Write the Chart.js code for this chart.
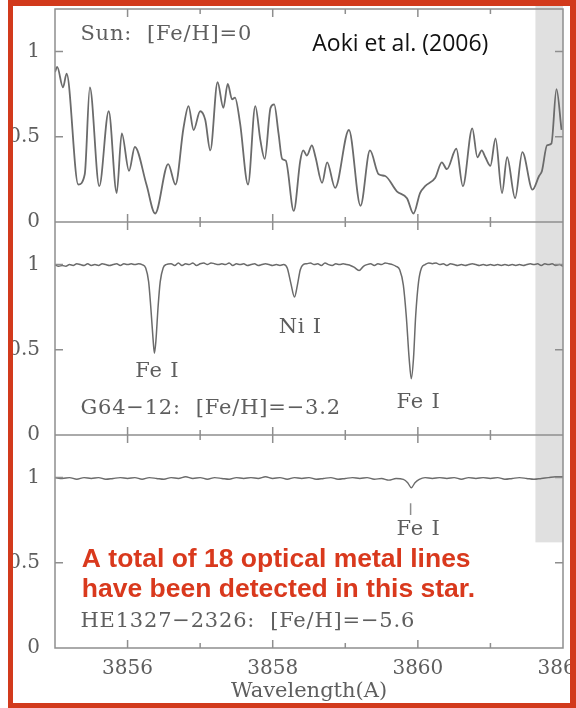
<!DOCTYPE html>
<html>
<head>
<meta charset="utf-8">
<script src="https://cdn.jsdelivr.net/npm/chart.js@4.4.1/dist/chart.umd.min.js"></script>
<style>
  html, body { margin: 0; padding: 0; background: #fff; }
  #wrap { position: relative; width: 576px; height: 708px; overflow: hidden; }
  #frame {
    position: absolute; left: 8px; top: 0; width: 568px; height: 708px;
    box-sizing: border-box; border: 5px solid #d23a1c; border-top-width: 6px; border-right-width: 6px;
    pointer-events: none;
  }
</style>
</head>
<body>
<div id="wrap">
  <canvas id="spectra" width="576" height="708"></canvas>
  <div id="frame"></div>
</div>
<script>
// Sun spectrum (normalised flux vs wavelength, A)
const sunWave = [3855.00, 3855.03, 3855.11, 3855.16, 3855.32, 3855.41, 3855.48, 3855.61, 3855.74, 3855.85,
  3855.92, 3856.02, 3856.10, 3856.26, 3856.38, 3856.56, 3856.66, 3856.77, 3856.84, 3856.91,
  3857.00, 3857.07, 3857.14, 3857.24, 3857.32, 3857.38, 3857.44, 3857.48, 3857.55, 3857.66,
  3857.76, 3857.83, 3857.89, 3857.97, 3858.02, 3858.08, 3858.13, 3858.18, 3858.29, 3858.38,
  3858.42, 3858.47, 3858.54, 3858.59, 3858.68, 3858.75, 3858.86, 3859.05, 3859.21, 3859.34,
  3859.46, 3859.55, 3859.71, 3859.85, 3859.94, 3860.03, 3860.10, 3860.24, 3860.33, 3860.40,
  3860.53, 3860.62, 3860.75, 3860.82, 3860.88, 3860.93, 3861.00, 3861.07, 3861.16, 3861.23,
  3861.34, 3861.44, 3861.58, 3861.67, 3861.71, 3861.78, 3861.84, 3861.91, 3861.98];
const sunFlux = [0.88, 0.91, 0.79, 0.87, 0.22, 0.28, 0.79, 0.21, 0.65, 0.17,
  0.52, 0.30, 0.44, 0.22, 0.05, 0.34, 0.22, 0.55, 0.68, 0.54,
  0.65, 0.60, 0.42, 0.82, 0.67, 0.81, 0.72, 0.73, 0.58, 0.22,
  0.68, 0.48, 0.37, 0.67, 0.69, 0.52, 0.37, 0.36, 0.065, 0.36,
  0.42, 0.39, 0.45, 0.38, 0.23, 0.35, 0.20, 0.54, 0.095, 0.42,
  0.28, 0.27, 0.18, 0.14, 0.05, 0.17, 0.21, 0.26, 0.35, 0.31,
  0.43, 0.21, 0.55, 0.38, 0.42, 0.38, 0.33, 0.49, 0.17, 0.38,
  0.14, 0.41, 0.19, 0.27, 0.30, 0.45, 0.46, 0.78, 0.54];

// G64-12
const g64Wave = [3855.00, 3855.05, 3855.10, 3855.15, 3855.20, 3855.25, 3855.30, 3855.35, 3855.40, 3855.45,
  3855.50, 3855.55, 3855.60, 3855.65, 3855.70, 3855.75, 3855.80, 3855.85, 3855.90, 3855.95,
  3856.00, 3856.05, 3856.10, 3856.15, 3856.20, 3856.25, 3856.29, 3856.32, 3856.35, 3856.37,
  3856.39, 3856.42, 3856.45, 3856.49, 3856.53, 3856.60, 3856.65, 3856.70, 3856.75, 3856.80,
  3856.85, 3856.90, 3856.95, 3857.00, 3857.05, 3857.10, 3857.15, 3857.20, 3857.25, 3857.30,
  3857.35, 3857.40, 3857.45, 3857.50, 3857.55, 3857.60, 3857.65, 3857.70, 3857.75, 3857.80,
  3857.85, 3857.90, 3857.95, 3858.00, 3858.05, 3858.10, 3858.15, 3858.20, 3858.25, 3858.30,
  3858.34, 3858.38, 3858.42, 3858.47, 3858.52, 3858.57, 3858.62, 3858.67, 3858.72, 3858.77,
  3858.82, 3858.87, 3858.92, 3858.97, 3859.02, 3859.07, 3859.12, 3859.19, 3859.25, 3859.30,
  3859.35, 3859.40, 3859.45, 3859.50, 3859.55, 3859.60, 3859.65, 3859.70, 3859.75, 3859.80,
  3859.84, 3859.88, 3859.91, 3859.94, 3859.97, 3860.01, 3860.05, 3860.10, 3860.15, 3860.20,
  3860.25, 3860.30, 3860.35, 3860.40, 3860.45, 3860.50, 3860.55, 3860.60, 3860.65, 3860.70,
  3860.75, 3860.80, 3860.85, 3860.90, 3860.95, 3861.00, 3861.05, 3861.10, 3861.15, 3861.20,
  3861.25, 3861.30, 3861.35, 3861.40, 3861.45, 3861.50, 3861.55, 3861.60, 3861.65, 3861.70,
  3861.75, 3861.80, 3861.85, 3861.90, 3861.95, 3862.00];
const g64Flux = [1.00, 0.99, 0.995, 0.99, 1.00, 0.995, 1.005, 1.00, 0.995, 1.005,
  0.995, 1.00, 0.995, 1.005, 1.00, 0.995, 1.00, 1.005, 0.995, 1.005,
  1.00, 1.005, 1.00, 1.005, 1.00, 0.98, 0.90, 0.75, 0.57, 0.48,
  0.55, 0.75, 0.90, 0.98, 1.00, 1.005, 0.995, 1.01, 0.995, 1.005,
  1.00, 1.01, 0.995, 1.005, 1.01, 1.00, 1.01, 1.005, 1.00, 1.005,
  1.00, 1.01, 0.995, 1.005, 1.00, 1.005, 0.995, 1.00, 1.005, 0.995,
  1.00, 1.005, 1.00, 0.995, 1.00, 0.995, 1.00, 0.98, 0.89, 0.81,
  0.88, 0.97, 1.00, 1.005, 1.01, 1.00, 1.005, 0.995, 1.01, 1.00,
  0.995, 1.005, 1.00, 1.005, 1.00, 0.995, 0.985, 0.965, 0.99, 1.00,
  1.005, 0.995, 1.005, 1.00, 1.01, 1.005, 1.00, 0.99, 0.97, 0.88,
  0.70, 0.45, 0.33, 0.45, 0.70, 0.90, 0.98, 1.00, 1.01, 1.005,
  1.01, 1.00, 1.005, 0.995, 1.005, 1.00, 0.995, 1.00, 0.995, 1.00,
  1.005, 1.00, 0.995, 1.00, 0.995, 1.00, 0.995, 1.00, 0.995, 1.00,
  0.995, 1.00, 0.995, 1.00, 0.995, 1.00, 1.005, 1.00, 1.005, 0.995,
  1.005, 1.00, 1.005, 0.995, 1.00, 0.99];

// HE1327-2326
const heWave = [3855.0, 3855.1, 3855.2, 3855.3, 3855.4, 3855.5, 3855.6, 3855.7, 3855.8, 3855.9,
  3856.0, 3856.1, 3856.2, 3856.3, 3856.4, 3856.5, 3856.6, 3856.7, 3856.8, 3856.9,
  3857.0, 3857.1, 3857.2, 3857.3, 3857.4, 3857.5, 3857.6, 3857.7, 3857.8, 3857.9,
  3858.0, 3858.1, 3858.2, 3858.3, 3858.4, 3858.5, 3858.6, 3858.7, 3858.8, 3858.9,
  3859.0, 3859.1, 3859.2, 3859.3, 3859.4, 3859.5, 3859.6, 3859.7, 3859.8, 3859.86,
  3859.91, 3859.96, 3860.02, 3860.1, 3860.2, 3860.3, 3860.4, 3860.5, 3860.6, 3860.7,
  3860.8, 3860.9, 3861.0, 3861.1, 3861.2, 3861.3, 3861.4, 3861.5, 3861.6, 3861.7,
  3861.8, 3861.9, 3862.0];
const heFlux = [1.00, 0.995, 1.00, 0.99, 1.00, 0.995, 1.00, 0.99, 0.995, 1.00,
  0.995, 1.00, 0.99, 1.00, 0.995, 0.99, 1.00, 0.995, 1.005, 0.995,
  1.00, 0.99, 1.00, 0.995, 0.99, 1.00, 0.995, 1.00, 0.995, 1.005,
  0.995, 1.00, 0.99, 1.00, 0.995, 1.00, 0.99, 0.995, 1.00, 0.99,
  0.995, 1.00, 0.995, 1.00, 0.99, 0.995, 0.985, 0.995, 0.99, 0.97,
  0.94, 0.97, 0.99, 1.00, 0.995, 1.00, 0.995, 1.00, 0.99, 1.00,
  0.995, 1.00, 0.995, 1.00, 0.99, 0.995, 1.00, 0.995, 0.99, 0.995,
  1.00, 1.005, 1.005];

// panels share one value axis: each panel is 1.25 tall, stacked top to bottom
const panelHeight = 1.25;
const panelBase = [2.5, 1.25, 0];          // Sun, G64-12, HE1327-2326
const yTickValues = [0, 0.5, 1, 1.25, 1.75, 2.25, 2.5, 3, 3.5];
const xLabelTicks = [3856, 3858, 3860, 3862];
const xMinorTicks = [3857, 3859, 3861];
const shadeFrom = 3861.62;                 // grey overlay band
const shadeDownTo = 0.62;

const notes = [
  { text: 'Sun:  [Fe/H]=0', x: 3855.35, y: 3.60 },
  { text: 'Ni I', x: 3858.38, y: 1.878, align: 'center' },
  { text: 'Fe I', x: 3856.41, y: 1.62, align: 'center' },
  { text: 'G64\u221212:  [Fe/H]=\u22123.2', x: 3855.35, y: 1.408 },
  { text: 'Fe I', x: 3860.01, y: 1.438, align: 'center' },
  { text: 'Fe I', x: 3860.01, y: 0.698, align: 'center' },
  { text: 'HE1327\u22122326:  [Fe/H]=\u22125.6', x: 3855.35, y: 0.158 }
];

const toPoints = (w, f, base) => w.map((v, i) => ({ x: v, y: f[i] + base }));

const lineColor = '#6b6b6b';
const frameColor = '#8e8e8e';
const textColor = '#5e5e5e';

const spectraDecor = {
  id: 'spectraDecor',
  beforeDatasetsDraw(chart) {
    const { ctx, chartArea, scales: { x, y } } = chart;
    const x0 = x.getPixelForValue(shadeFrom);
    const y1 = y.getPixelForValue(shadeDownTo);
    ctx.save();
    ctx.fillStyle = 'rgba(0,0,0,0.12)';
    ctx.fillRect(x0, 0, chartArea.right - x0, y1);
    ctx.restore();
  },
  afterDatasetsDraw(chart) {
    const { ctx, chartArea, scales: { x, y } } = chart;
    ctx.save();
    ctx.strokeStyle = frameColor;
    ctx.lineWidth = 1.5;
    ctx.strokeRect(chartArea.left, chartArea.top, chartArea.right - chartArea.left, chartArea.bottom - chartArea.top);
    ctx.beginPath();
    [1.25, 2.5].forEach(b => {
      const py = y.getPixelForValue(b);
      ctx.moveTo(chartArea.left, py);
      ctx.lineTo(chartArea.right, py);
    });
    // inward tick marks
    const edges = [0, 1.25, 2.5, 3.75];
    edges.forEach(b => {
      const py = y.getPixelForValue(b);
      xLabelTicks.concat(xMinorTicks).forEach(t => {
        if (t >= 3862) return;
        const px = x.getPixelForValue(t);
        const len = xLabelTicks.includes(t) ? 8 : 5;
        if (b > 0) { ctx.moveTo(px, py); ctx.lineTo(px, py + len); }
        if (b < 3.75) { ctx.moveTo(px, py); ctx.lineTo(px, py - len); }
      });
    });
    panelBase.forEach(base => {
      [0.5, 1].forEach(v => {
        const py = y.getPixelForValue(base + v);
        ctx.moveTo(chartArea.left, py); ctx.lineTo(chartArea.left + 8, py);
        ctx.moveTo(chartArea.right, py); ctx.lineTo(chartArea.right - 8, py);
      });
    });
    // Fe I marker in the HE1327 panel
    const mx = x.getPixelForValue(3859.90);
    ctx.moveTo(mx, y.getPixelForValue(0.85));
    ctx.lineTo(mx, y.getPixelForValue(0.78));
    ctx.stroke();

    ctx.fillStyle = textColor;
    ctx.font = '21px "DejaVu Serif"';
    ctx.letterSpacing = '0.8px';
    ctx.textBaseline = 'middle';
    notes.forEach(n => {
      ctx.textAlign = n.align || 'left';
      ctx.fillText(n.text, x.getPixelForValue(n.x), y.getPixelForValue(n.y));
    });
    ctx.letterSpacing = '0px';

    ctx.textAlign = 'left';
    ctx.fillStyle = '#111';
    ctx.font = '23px "Open Sans"';
    ctx.fillText('Aoki et al. (2006)', x.getPixelForValue(3858.545), y.getPixelForValue(3.54));

    ctx.fillStyle = '#d9391d';
    ctx.font = 'bold 26.5px "Liberation Sans"';
    ctx.fillText('A total of 18 optical metal lines', x.getPixelForValue(3855.37), y.getPixelForValue(0.516));
    ctx.fillText('have been detected in this star.', x.getPixelForValue(3855.37), y.getPixelForValue(0.34));
    ctx.restore();
  }
};

Chart.defaults.font.family = '"DejaVu Serif"';
Chart.defaults.font.size = 20;
Chart.defaults.color = textColor;

new Chart(document.getElementById('spectra'), {
  type: 'line',
  data: {
    datasets: [
      { label: 'Sun', data: toPoints(sunWave, sunFlux, panelBase[0]), borderWidth: 1.8 },
      { label: 'G64-12', data: toPoints(g64Wave, g64Flux, panelBase[1]), borderWidth: 1.5 },
      { label: 'HE1327-2326', data: toPoints(heWave, heFlux, panelBase[2]), borderWidth: 1.4 }
    ].map(d => Object.assign(d, {
      borderColor: lineColor,
      pointRadius: 0,
      fill: false,
      cubicInterpolationMode: 'monotone'
    }))
  },
  options: {
    responsive: false,
    animation: false,
    devicePixelRatio: 1,
    layout: { padding: { top: 9, right: 13, left: 0, bottom: 0 } },
    plugins: { legend: { display: false }, tooltip: { enabled: false } },
    scales: {
      x: {
        type: 'linear',
        min: 3855,
        max: 3862,
        grid: { display: false, drawTicks: false },
        border: { display: false },
        ticks: { autoSkip: false, maxRotation: 0, padding: 9, callback: v => String(v) },
        afterBuildTicks: s => { s.ticks = xLabelTicks.map(v => ({ value: v })); },
        afterFit: s => { s.height = 60; s.paddingLeft = 0; s.paddingRight = 0; },
        title: { display: true, text: 'Wavelength(A)', font: { size: 21 }, padding: { top: 0, bottom: 4 } }
      },
      y: {
        min: 0,
        max: panelHeight * 3,
        grid: { display: false, drawTicks: false },
        border: { display: false },
        ticks: {
          padding: 15,
          callback: v => {
            const local = Math.round((v - panelHeight * Math.floor(v / panelHeight + 1e-9)) * 100) / 100;
            return String(local);
          }
        },
        afterBuildTicks: s => { s.ticks = yTickValues.map(v => ({ value: v })); },
        afterFit: s => { s.width = 55; s.paddingTop = 0; s.paddingBottom = 0; }
      }
    }
  },
  plugins: [spectraDecor]
});
</script>
</body>
</html>
